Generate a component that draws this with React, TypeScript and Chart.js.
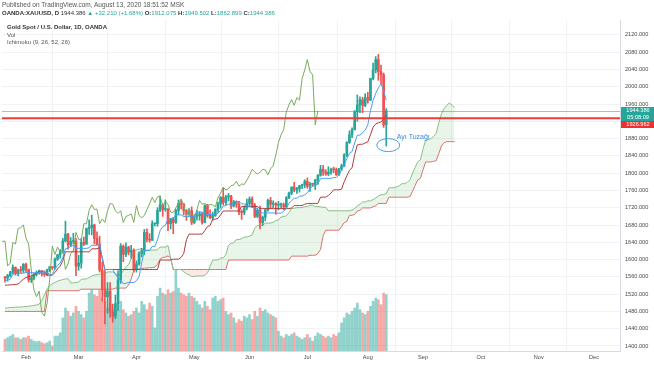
import React, { useEffect, useRef } from 'react';
import { Chart, registerables } from 'chart.js';

Chart.register(...registerables);

// Bar numbering: bar 0 = Feb 3 2020, first drawn bar = Jan 22 2020
const FIRST_BAR = -8;

const opens = [
  1558, 1557, 1563, 1571, 1582, 1568, 1576, 1575,
  1589, 1577, 1553, 1557, 1566, 1570, 1572, 1567, 1565, 1576, 1583, 1581, 1601, 1611, 1620, 1643, 1659, 1634, 1642, 1643,
  1585, 1592, 1640, 1636, 1672, 1674, 1680, 1649, 1636, 1576, 1530, 1514, 1527, 1478, 1469, 1498, 1553, 1631, 1612, 1629, 1617, 1622,
  1577, 1590, 1614, 1620, 1663, 1647, 1645, 1683, 1683, 1714, 1727, 1716, 1717, 1683, 1694, 1686, 1713, 1730, 1728, 1713, 1707, 1713,
  1686, 1700, 1702, 1706, 1686, 1725, 1702, 1697, 1702, 1716, 1729, 1744, 1732, 1745, 1747, 1724, 1734, 1728, 1710, 1709, 1720,
  1730, 1740, 1726, 1700, 1714, 1685, 1698, 1715, 1737, 1728, 1730, 1726, 1727, 1727, 1722, 1743, 1754, 1768, 1761, 1764, 1771, 1773,
  1781, 1770, 1775, 1774, 1784, 1795, 1809, 1803, 1798, 1802, 1809, 1808, 1796, 1810, 1817, 1842, 1871, 1889, 1901, 1942, 1958, 1970, 1957,
  1975, 1969, 2019, 2039, 2063, 2035, 2028, 1912.075,
];
const highs = [
  1561, 1566, 1573, 1588, 1583, 1578, 1584, 1591,
  1592, 1578, 1561, 1568, 1574, 1576, 1574, 1571, 1578, 1584, 1584, 1604, 1612, 1623, 1649, 1689, 1661, 1651, 1661, 1649,
  1610, 1649, 1652, 1673, 1692, 1703, 1682, 1664, 1654, 1594, 1575, 1547, 1547, 1497, 1518, 1574, 1637, 1634, 1639, 1631, 1633, 1625,
  1597, 1618, 1626, 1670, 1671, 1660, 1690, 1684, 1720, 1747, 1729, 1738, 1718, 1696, 1698, 1717, 1738, 1739, 1730, 1716, 1718, 1722,
  1704, 1714, 1711, 1709, 1727, 1728, 1715, 1710, 1718, 1733, 1746, 1765, 1749, 1753, 1749, 1737, 1736, 1735, 1715, 1724, 1740,
  1745, 1745, 1730, 1718, 1724, 1701, 1717, 1740, 1744, 1736, 1732, 1735, 1731, 1731, 1746, 1756, 1768, 1779, 1767, 1772, 1775, 1785,
  1789, 1779, 1777, 1786, 1797, 1818, 1818, 1808, 1815, 1812, 1814, 1812, 1811, 1821, 1845, 1873, 1898, 1905, 1945, 1981, 1977, 1976, 1984,
  1987, 2020, 2055, 2070, 2075, 2050, 2032, 1949.502,
];
const lows = [
  1548, 1550, 1560, 1567, 1564, 1562, 1570, 1570,
  1572, 1548, 1547, 1553, 1562, 1566, 1562, 1561, 1563, 1572, 1577, 1578, 1598, 1603, 1615, 1641, 1624, 1630, 1636, 1563,
  1575, 1580, 1632, 1635, 1658, 1657, 1636, 1634, 1571, 1504, 1451, 1476, 1466, 1455, 1463, 1482, 1545, 1595, 1607, 1611, 1603, 1571,
  1571, 1587, 1606, 1611, 1641, 1640, 1644, 1678, 1677, 1711, 1700, 1712, 1667, 1671, 1660, 1684, 1704, 1717, 1703, 1691, 1702, 1681,
  1683, 1691, 1691, 1682, 1685, 1698, 1695, 1691, 1700, 1710, 1719, 1726, 1727, 1736, 1718, 1722, 1721, 1704, 1693, 1704, 1715,
  1722, 1720, 1697, 1697, 1671, 1679, 1690, 1712, 1718, 1720, 1705, 1715, 1720, 1715, 1720, 1741, 1750, 1757, 1753, 1756, 1764, 1766,
  1765, 1758, 1770, 1762, 1774, 1793, 1795, 1795, 1794, 1797, 1801, 1795, 1795, 1806, 1815, 1838, 1869, 1882, 1900, 1920, 1940, 1940, 1954,
  1962, 1968, 2016, 2032, 2015, 2007, 1906, 1862.899,
];
const closes = [
  1557, 1563, 1571, 1582, 1568, 1576, 1575, 1589,
  1577, 1553, 1557, 1566, 1570, 1572, 1567, 1565, 1576, 1583, 1581, 1601, 1611, 1620, 1643, 1659, 1634, 1642, 1643, 1585,
  1592, 1640, 1636, 1672, 1674, 1680, 1649, 1636, 1576, 1530, 1514, 1527, 1478, 1469, 1498, 1553, 1631, 1612, 1629, 1617, 1622, 1577,
  1590, 1614, 1620, 1663, 1647, 1645, 1683, 1683, 1714, 1727, 1716, 1717, 1683, 1694, 1686, 1713, 1730, 1728, 1713, 1707, 1713, 1686,
  1700, 1702, 1706, 1686, 1725, 1702, 1697, 1702, 1716, 1729, 1744, 1732, 1745, 1747, 1724, 1734, 1728, 1710, 1709, 1720, 1730,
  1740, 1726, 1700, 1714, 1685, 1698, 1715, 1737, 1728, 1730, 1726, 1727, 1727, 1722, 1743, 1754, 1768, 1761, 1764, 1771, 1773, 1781,
  1770, 1775, 1774, 1784, 1795, 1809, 1803, 1798, 1802, 1809, 1808, 1796, 1810, 1817, 1842, 1871, 1889, 1901, 1942, 1958, 1970, 1957, 1975,
  1969, 2019, 2039, 2063, 2035, 2028, 1912, 1944.386,
];
// thousands of ticks
const volumes = [
  35, 40, 45, 50, 40, 40, 35, 40,
  40, 45, 35, 30, 28, 30, 25, 22, 25, 30, 15,
  45, 45, 55,
  100, 130, 120, 105, 115, 135, 120, 110, 100, 120,
  175, 185, 170, 165, 185,
  160, 150, 130, 140, 125, 120,
  140, 150, 125, 115, 105, 110,
  120, 130, 115, 150, 140, 125,
  145, 135, 70,
  165, 190, 175, 170, 185, 175, 180, 245, 190, 175, 170, 165,
  175, 165, 160, 150,
  140, 130, 150, 135, 125,
  160, 165, 150, 155, 160,
  120, 110, 115, 100, 85, 95, 90, 105, 100, 110, 95, 120, 105,
  130, 120, 125, 115, 110, 105, 100,
  60, 45, 40, 50, 45, 50, 55, 45, 40, 35, 40, 50, 40, 30, 45, 55, 50, 45, 40, 45, 40, 50, 45, 55,
  85, 100, 115, 110, 120, 130, 145, 125, 115, 110,
  120, 135, 150, 160, 155, 140, 175, 170,
];
// Ichimoku (9, 26, 52, 26)
const conversionLine = [
  1552, 1552, 1554.5, 1566.5, 1567.5, 1567.5, 1567.5, 1569,
  1570, 1570, 1569.5, 1569.5, 1569.5, 1569.5, 1569.5, 1569.5, 1569.5, 1565.5, 1565.5, 1578.5, 1586.5, 1592, 1605, 1625, 1626, 1630.5, 1633, 1626,
  1626, 1626, 1626, 1626, 1627.5, 1633, 1633, 1633, 1637, 1603.5, 1577, 1577, 1577, 1577, 1566.5, 1557.5, 1552.5, 1544, 1545, 1547, 1547, 1547,
  1551, 1560.5, 1592, 1620.5, 1621, 1621, 1630.5, 1630.5, 1645.5, 1667, 1676.5, 1679, 1693.5, 1693.5, 1695.5, 1703.5, 1703.5, 1703.5, 1699.5, 1699.5, 1699.5, 1699.5,
  1699.5, 1710, 1710, 1710, 1705.5, 1704.5, 1704.5, 1704.5, 1705, 1707.5, 1714, 1723.5, 1725, 1728, 1728, 1728, 1732.5, 1734.5, 1729, 1729, 1723,
  1723, 1721, 1719, 1719, 1708, 1708, 1708, 1708, 1708, 1708, 1707.5, 1707.5, 1707.5, 1711.5, 1718, 1730.5, 1736.5, 1742, 1742, 1747, 1747, 1750,
  1754.5, 1765, 1769.5, 1771, 1775, 1787, 1788, 1788, 1788, 1788, 1790, 1790, 1796, 1807, 1819.5, 1833.5, 1846, 1850, 1870, 1888, 1888, 1893.5, 1899.5,
  1912.5, 1944.5, 1968.5, 1985, 1997.5, 2007.5, 1990.5, 1969,
];
const baseLine = [
  1540.5, 1541, 1541.5, 1542, 1542.5, 1543.5, 1548.5, 1555,
  1558.5, 1560, 1562.5, 1564, 1567.5, 1573.5, 1573.5, 1573.5, 1564, 1564, 1564, 1570, 1578.5, 1585, 1598, 1618, 1618, 1618, 1618, 1618,
  1618, 1618, 1618, 1618, 1618, 1625, 1625, 1625, 1628, 1603.5, 1577, 1577, 1577, 1577, 1577, 1577, 1577, 1577, 1577, 1577, 1577, 1577,
  1577, 1577, 1577, 1577, 1577, 1577, 1577, 1577, 1577, 1599, 1599, 1599, 1599, 1599, 1601, 1601, 1601, 1605, 1614.5, 1646, 1659, 1659,
  1659, 1659, 1659, 1659, 1667, 1676.5, 1679, 1693.5, 1693.5, 1695.5, 1703.5, 1712.5, 1712.5, 1712.5, 1712.5, 1712.5, 1712.5, 1712.5, 1723, 1723, 1723,
  1723, 1723, 1723, 1723, 1718, 1718, 1718, 1718, 1718, 1718, 1718, 1718, 1718, 1718, 1718, 1718, 1719.5, 1725, 1725, 1725, 1725, 1728,
  1730, 1730, 1730, 1730, 1730, 1744.5, 1744.5, 1744.5, 1748.5, 1754, 1761.5, 1761.5, 1761.5, 1763, 1780, 1794, 1806.5, 1812.5, 1843, 1865.5, 1867, 1867, 1870,
  1872.5, 1889, 1906.5, 1914, 1916.5, 1918.5, 1924.5, 1934,
];
// leading spans, plotted 26 bars ahead; first value sits on bar FIRST_LEAD
const FIRST_LEAD = -8;
const leadingSpanA = [
  1488, 1488, 1489, 1489, 1490, 1490, 1490, 1491, 1491, 1492, 1493, 1494, 1495, 1497, 1505, 1518, 1532, 1540, 1544, 1547, 1550, 1552, 1554, 1555, 1556, 1546,
  1546.3, 1546.5, 1548, 1554.3, 1555, 1555.5, 1558, 1562,
  1564.3, 1565, 1566, 1566.8, 1568.5, 1571.5, 1571.5, 1571.5, 1566.8, 1564.8, 1564.8, 1574.3, 1582.5, 1588.5, 1601.5, 1621.5, 1622, 1624.3, 1625.5, 1622,
  1622, 1622, 1622, 1622, 1622.8, 1629, 1629, 1629, 1632.5, 1603.5, 1577, 1577, 1577, 1577, 1571.8, 1567.3, 1564.8, 1560.5, 1561, 1562, 1562, 1562,
  1564, 1568.8, 1584.5, 1598.8, 1599, 1599, 1603.8, 1603.8, 1611.3, 1633, 1637.8, 1639, 1646.3, 1646.3, 1648.3, 1652.3, 1652.3, 1654.3, 1657, 1672.8, 1679.3, 1679.3,
  1679.3, 1684.5, 1684.5, 1684.5, 1686.3, 1690.5, 1691.8, 1699, 1699.3, 1701.5, 1708.8, 1718, 1718.8, 1720.3, 1720.3, 1720.3, 1722.5, 1723.5, 1726, 1726, 1723,
  1723, 1722, 1721, 1721, 1713, 1713, 1713, 1713, 1713, 1713, 1712.8, 1712.8, 1712.8, 1714.8, 1718, 1724.3, 1728, 1733.5, 1733.5, 1736, 1736, 1739,
  1742.3, 1747.5, 1749.8, 1750.5, 1752.5, 1765.8, 1766.3, 1766.3, 1768.3, 1771, 1775.8, 1775.8, 1778.8, 1785, 1799.8, 1813.8, 1826.3, 1831.3, 1856.5, 1876.8, 1877.5, 1880.3, 1884.8,
  1892.5, 1916.8, 1937.5, 1949.5, 1957, 1963, 1957.5, 1951.5,
];
const leadingSpanB = [
  1480, 1480, 1480, 1480, 1480, 1480, 1480, 1480, 1480, 1480, 1480, 1480, 1480, 1480, 1480, 1480,
  1528, 1528, 1528, 1528, 1528, 1528, 1528, 1528, 1528, 1528, 1528, 1528, 1528,
  1531.5, 1531.5, 1531.5, 1531.5, 1531.5, 1531.5, 1531.5, 1531.5, 1531.5, 1531.5, 1531.5, 1531.5, 1531.5,
  1534, 1534, 1534, 1534, 1534,
  1541.5, 1555, 1575.5, 1577, 1578.5, 1579.5, 1580, 1580.5, 1581, 1581.5, 1582.5, 1589, 1601, 1604.5, 1606, 1608.5, 1603.5,
  1577, 1577, 1577, 1577, 1577, 1577, 1577, 1577, 1577, 1577, 1577, 1577, 1577, 1577, 1577, 1577, 1577, 1577, 1577, 1577, 1577,
  1599, 1599, 1599, 1599, 1599, 1599, 1599, 1599, 1599, 1599, 1599, 1599, 1599, 1599, 1599, 1599, 1599, 1599, 1599, 1599, 1599, 1599, 1599, 1599,
  1608, 1608, 1608, 1608, 1608, 1608, 1608,
  1610, 1610, 1610,
  1614, 1623.5, 1655,
  1668, 1668, 1668, 1668, 1668, 1668,
  1676, 1685.5, 1688, 1702.5, 1702.5, 1704.5, 1712.5, 1714,
  1719.5, 1719.5, 1719.5, 1719.5,
  1722.5, 1724.5,
  1730, 1730, 1730, 1730,
  1744.5, 1744.5, 1744.5, 1744.5, 1744.5, 1744.5, 1744.5, 1744.5,
  1746, 1758, 1772, 1784.5, 1788, 1808,
  1826, 1826, 1826,
  1827.5, 1829, 1845.5, 1863, 1870.5,
  1873, 1873, 1873, 1873,
];
const LAG_SHIFT = 26;

const monthNames = ['Feb', 'Mar', 'Apr', 'May', 'Jun', 'Jul', 'Aug', 'Sep', 'Oct', 'Nov', 'Dec'];
const monthBars = [0, 20, 42, 64, 85, 107, 130, 151, 173, 195, 216];
const priceTicks = [1400, 1440, 1480, 1520, 1560, 1600, 1640, 1680, 1720, 1760, 1800, 1840, 1880, 1920, 1960, 2000, 2040, 2080, 2120];

const lastPrice = 1944.386;
const levelPrice = 1926.962;
const countdown = '05:08:09';
const noteText = 'Ayı Tuzağı';
const noteBar = 137;
const notePrice = 1865;

const UP = '#26a69a';
const DOWN = '#ef5350';
const FONT = "'Liberation Sans', Arial, sans-serif";

const overlayPlugin = {
  id: 'overlay',
  afterDatasetsDraw(chart: any) {
    const { ctx, chartArea, scales } = chart;
    const xs = scales.x;
    const ys = scales.y;
    ctx.save();
    ctx.beginPath();
    ctx.rect(chartArea.left, chartArea.top, chartArea.right - chartArea.left, chartArea.bottom - chartArea.top);
    ctx.clip();
    const yl = Math.round(ys.getPixelForValue(lastPrice)) + 0.5;
    ctx.strokeStyle = 'rgba(38,166,154,0.55)';
    ctx.lineWidth = 1;
    ctx.beginPath();
    ctx.moveTo(chartArea.left, yl);
    ctx.lineTo(chartArea.right, yl);
    ctx.stroke();
    const yr = ys.getPixelForValue(levelPrice);
    ctx.strokeStyle = '#ee3d3d';
    ctx.lineWidth = 2;
    ctx.beginPath();
    ctx.moveTo(chartArea.left, yr);
    ctx.lineTo(chartArea.right, yr);
    ctx.stroke();
    const ex = xs.getPixelForValue(noteBar) + 2;
    const ey = ys.getPixelForValue(notePrice);
    ctx.strokeStyle = '#4a9fe0';
    ctx.lineWidth = 1;
    ctx.beginPath();
    ctx.ellipse(ex, ey, 11.5, 6.5, 0, 0, Math.PI * 2);
    ctx.stroke();
    ctx.fillStyle = '#3b8fd9';
    ctx.font = `7px ${FONT}`;
    ctx.textBaseline = 'middle';
    ctx.textAlign = 'left';
    ctx.fillText(noteText, ex + 8.5, ey - 8.5);
    ctx.restore();
  },
  afterDraw(chart: any) {
    const { ctx, chartArea, scales } = chart;
    const ys = scales.y;
    const w = chart.width;
    ctx.save();
    const boxes = [
      { y: ys.getPixelForValue(lastPrice), text: lastPrice.toFixed(3), color: UP },
      { y: ys.getPixelForValue(lastPrice) + 7, text: countdown, color: UP },
      { y: ys.getPixelForValue(lastPrice) + 14, text: levelPrice.toFixed(3), color: '#ee3030' },
    ];
    ctx.font = `5.6px ${FONT}`;
    ctx.textAlign = 'center';
    ctx.textBaseline = 'middle';
    for (const b of boxes) {
      ctx.fillStyle = b.color;
      ctx.fillRect(chartArea.right + 1, Math.round(b.y - 3.5), w - chartArea.right - 1, 7);
      ctx.fillStyle = '#ffffff';
      ctx.fillText(b.text, (chartArea.right + w) / 2 + 1, Math.round(b.y - 3.5) + 3.7);
    }
    ctx.restore();
  },
};

export default function App() {
  const canvasRef = useRef<HTMLCanvasElement | null>(null);

  useEffect(() => {
    const canvas = canvasRef.current;
    if (!canvas) return;
    const bars = closes.map((_, k) => FIRST_BAR + k);
    const isUp = closes.map((c, k) => c >= opens[k]);
    const candleColors = isUp.map((u) => (u ? UP : DOWN));
    const volColors = isUp.map((u) => (u ? 'rgba(38,166,154,0.5)' : 'rgba(239,83,80,0.5)'));

    const chart = new Chart(canvas, {
      type: 'bar',
      data: {
        datasets: [
          {
            type: 'line',
            label: 'Conversion Line',
            data: bars.map((x, k) => ({ x, y: conversionLine[k] })),
            borderColor: '#4b9cf0',
            borderWidth: 1,
            pointRadius: 0,
            order: 1,
          },
          {
            type: 'line',
            label: 'Base Line',
            data: bars.map((x, k) => ({ x, y: baseLine[k] })),
            borderColor: '#b23a3a',
            borderWidth: 1,
            pointRadius: 0,
            order: 2,
          },
          {
            type: 'line',
            label: 'Lagging Span',
            data: bars.map((x, k) => ({ x: x - LAG_SHIFT, y: closes[k] })),
            borderColor: '#79ab5b',
            borderWidth: 1,
            pointRadius: 0,
            order: 3,
          },
          {
            type: 'bar',
            label: 'Bodies',
            data: bars.map((x, k) => ({ x, y: [opens[k], closes[k]] })),
            backgroundColor: candleColors,
            barThickness: 2,
            minBarLength: 1,
            grouped: false,
            order: 4,
          },
          {
            type: 'bar',
            label: 'Wicks',
            data: bars.map((x, k) => ({ x, y: [lows[k], highs[k]] })),
            backgroundColor: candleColors,
            barThickness: 1,
            grouped: false,
            order: 5,
          },
          {
            type: 'line',
            label: 'Lead 1',
            data: leadingSpanA.map((y, k) => ({ x: FIRST_LEAD + k, y })),
            borderColor: '#86c083',
            borderWidth: 1,
            pointRadius: 0,
            fill: { target: '+1', above: 'rgba(76,175,80,0.13)', below: 'rgba(244,67,54,0.12)' },
            order: 6,
          },
          {
            type: 'line',
            label: 'Lead 2',
            data: leadingSpanB.map((y, k) => ({ x: FIRST_LEAD + k, y })),
            borderColor: '#e37070',
            borderWidth: 1,
            pointRadius: 0,
            order: 7,
          },
          {
            type: 'bar',
            label: 'Vol',
            data: bars.map((x, k) => ({ x, y: volumes[k] })),
            backgroundColor: volColors,
            barThickness: 2,
            grouped: false,
            yAxisID: 'yv',
            order: 8,
          },
        ],
      } as any,
      options: {
        responsive: false,
        animation: false,
        events: [],
        devicePixelRatio: 1,
        layout: { padding: { top: 20, left: 2, right: 0, bottom: 0 } },
        plugins: { legend: { display: false }, tooltip: { enabled: false } },
        scales: {
          x: {
            type: 'linear',
            position: 'bottom',
            min: -9.13,
            max: 225.9,
            offset: false,
            afterBuildTicks: (scale: any) => {
              scale.ticks = monthBars.map((v) => ({ value: v }));
            },
            afterFit: (scale: any) => {
              scale.height = 15;
            },
            ticks: {
              autoSkip: false,
              maxRotation: 0,
              padding: 3,
              color: '#4a4a4a',
              font: { size: 5.6, family: FONT },
              callback: (v: any) => monthNames[monthBars.indexOf(Number(v))] ?? '',
            },
            grid: { color: '#f0f2f6', drawTicks: false },
            border: { color: '#d8dbe2' },
          },
          y: {
            type: 'linear',
            position: 'right',
            min: 1388.4,
            max: 2154.6,
            afterBuildTicks: (scale: any) => {
              scale.ticks = priceTicks.map((v) => ({ value: v }));
            },
            afterFit: (scale: any) => {
              scale.width = 34;
            },
            ticks: {
              padding: 5,
              color: '#4a4a4a',
              font: { size: 5.6, family: FONT },
              callback: (v: any) => Number(v).toFixed(3),
            },
            grid: { color: '#f0f2f6', drawTicks: false },
            border: { color: '#d8dbe2' },
          },
          yv: {
            type: 'linear',
            display: false,
            min: 0,
            max: 1000,
          },
        },
      } as any,
      plugins: [overlayPlugin],
    });
    return () => chart.destroy();
  }, []);

  const green = '#26a69a';
  return (
    <div style={{ position: 'fixed', left: 0, top: 0, width: 654, height: 366, background: '#ffffff', overflow: 'hidden' }}>
      <canvas ref={canvasRef} width={654} height={366} style={{ position: 'absolute', left: 0, top: 0 }} />
      <div style={{ position: 'absolute', left: 2, top: 1, fontFamily: FONT, fontSize: 6.5, color: '#555', whiteSpace: 'nowrap' }}>
        Published on TradingView.com, August 13, 2020 18:51:52 MSK
      </div>
      <div style={{ position: 'absolute', left: 2, top: 10, fontFamily: FONT, fontSize: 6, color: '#333', whiteSpace: 'nowrap' }}>
        <b>OANDA:XAUUSD, D</b> 1944.386 <span style={{ color: green }}>▲ +32.210 (+1.68%)</span> <b>O:</b>
        <span style={{ color: green }}>1912.075</span> <b>H:</b><span style={{ color: green }}>1949.502</span> <b>L:</b>
        <span style={{ color: green }}>1862.899</span> <b>C:</b><span style={{ color: green }}>1944.386</span>
      </div>
      <div style={{ position: 'absolute', left: 7, top: 24, fontFamily: FONT, fontSize: 6, color: '#333', lineHeight: '7.5px', whiteSpace: 'nowrap' }}>
        <div style={{ fontWeight: 'bold' }}>Gold Spot / U.S. Dollar, 1D, OANDA</div>
        <div style={{ color: '#555' }}>Vol</div>
        <div style={{ color: '#555' }}>Ichimoku (9, 26, 52, 26)</div>
      </div>
    </div>
  );
}
